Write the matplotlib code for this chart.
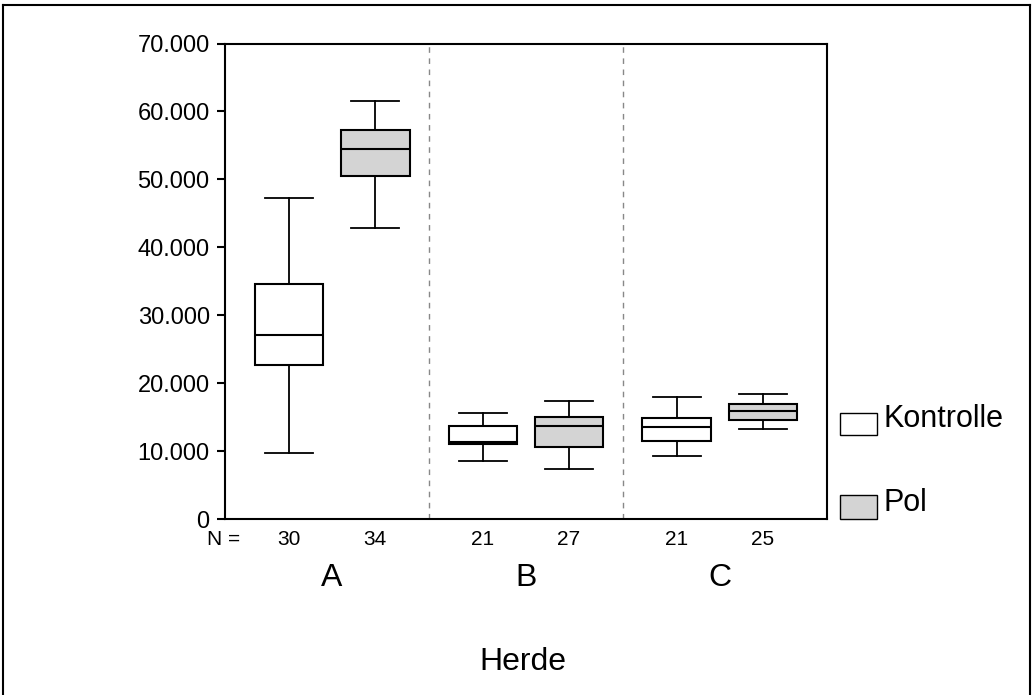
import matplotlib.pyplot as plt
from matplotlib.lines import Line2D
from matplotlib.patches import Rectangle
from matplotlib.ticker import FuncFormatter

# Herden und Stichprobengroessen
herden = ["A", "B", "C"]
n_kontrolle = [30, 21, 21]
n_pol = [34, 27, 25]

# Boxplot-Kennwerte Kontrolle (Whisker unten, Q1, Median, Q3, Whisker oben)
k_whislo = [9700, 8500, 9300]
k_q1 = [22700, 11050, 11500]
k_med = [27100, 11400, 13550]
k_q3 = [34600, 13750, 14850]
k_whishi = [47200, 15650, 18000]

# Boxplot-Kennwerte Pol
p_whislo = [42900, 7400, 13300]
p_q1 = [50500, 10600, 14600]
p_med = [54400, 13750, 15900]
p_q3 = [57200, 15050, 17000]
p_whishi = [61600, 17400, 18450]

y_ticks = [0, 10000, 20000, 30000, 40000, 50000, 60000, 70000]

GRAU = "#d4d4d4"
VERSATZ = 0.222
BREITE = 0.355


def stats(whislo, q1, med, q3, whishi):
    return [dict(whislo=a, q1=b, med=c, q3=d, whishi=e, fliers=[])
            for a, b, c, d, e in zip(whislo, q1, med, q3, whishi)]


fig = plt.figure(figsize=(10.33, 6.95), dpi=100)
plt.rcParams["font.family"] = ["Liberation Sans", "DejaVu Sans"]
ax = fig.add_axes([0.2178, 0.2532, 0.5828, 0.6842])

pos = [i + 1 for i in range(len(herden))]
linien = dict(color="black", linewidth=1.3)

for werte, dx, farbe in [
    (stats(k_whislo, k_q1, k_med, k_q3, k_whishi), -VERSATZ, "white"),
    (stats(p_whislo, p_q1, p_med, p_q3, p_whishi), VERSATZ, GRAU),
]:
    ax.bxp(werte, positions=[p + dx for p in pos], widths=BREITE,
           capwidths=BREITE * 0.7, patch_artist=True, showfliers=False,
           boxprops=dict(facecolor=farbe, edgecolor="black", linewidth=1.5),
           medianprops=dict(color="black", linewidth=1.5),
           whiskerprops=linien, capprops=linien, manage_ticks=False)

# gestrichelte Trennlinien zwischen den Herden
for x in [1.5, 2.5]:
    ax.axvline(x, color="#888888", linewidth=1, linestyle=(0, (4, 4)))

ax.set_xlim(0.448, 3.552)
ax.set_ylim(0, 70000)
ax.set_yticks(y_ticks)
ax.yaxis.set_major_formatter(FuncFormatter(lambda v, _: f"{int(v):,}".replace(",", ".")))
ax.tick_params(axis="y", labelsize=17, length=6, width=1.5, pad=5)
ax.set_xticks([])
for s in ax.spines.values():
    s.set_linewidth(1.5)

# N-Angaben und Herdenbeschriftung unter der Achse
trans = ax.get_xaxis_transform()
ax.text(0.44, -0.044, "N =", transform=trans, ha="center", va="center", fontsize=15)
for i, p in enumerate(pos):
    ax.text(p - VERSATZ, -0.044, str(n_kontrolle[i]), transform=trans,
            ha="center", va="center", fontsize=15)
    ax.text(p + VERSATZ, -0.044, str(n_pol[i]), transform=trans,
            ha="center", va="center", fontsize=15)
    ax.text(p, -0.124, herden[i], transform=trans, ha="center", va="center",
            fontsize=23)

fig.text(523 / 1033, 1 - 662 / 695, "Herde", ha="center", va="center", fontsize=23)

# Legende
W, H = 1033, 695
for y0, y1, farbe, name in [(413, 435, "white", "Kontrolle"), (495, 519, GRAU, "Pol")]:
    fig.patches.append(Rectangle((840 / W, 1 - y1 / H), 37 / W, (y1 - y0) / H,
                                 transform=fig.transFigure, facecolor=farbe,
                                 edgecolor="black", linewidth=1))
    fig.text(883 / W, 1 - (y1 - 8) / H, name, ha="left", va="baseline", fontsize=22)

# Rahmen um die Grafik
for xs, ys in [([3 / W, 3 / W], [0, 1 - 5 / H]),
               ([3 / W, 1030 / W], [1 - 5 / H, 1 - 5 / H]),
               ([1030 / W, 1030 / W], [0, 1 - 5 / H])]:
    fig.lines.append(Line2D(xs, ys, transform=fig.transFigure, color="black", linewidth=1.5))

fig.savefig("out.png", dpi=100)
